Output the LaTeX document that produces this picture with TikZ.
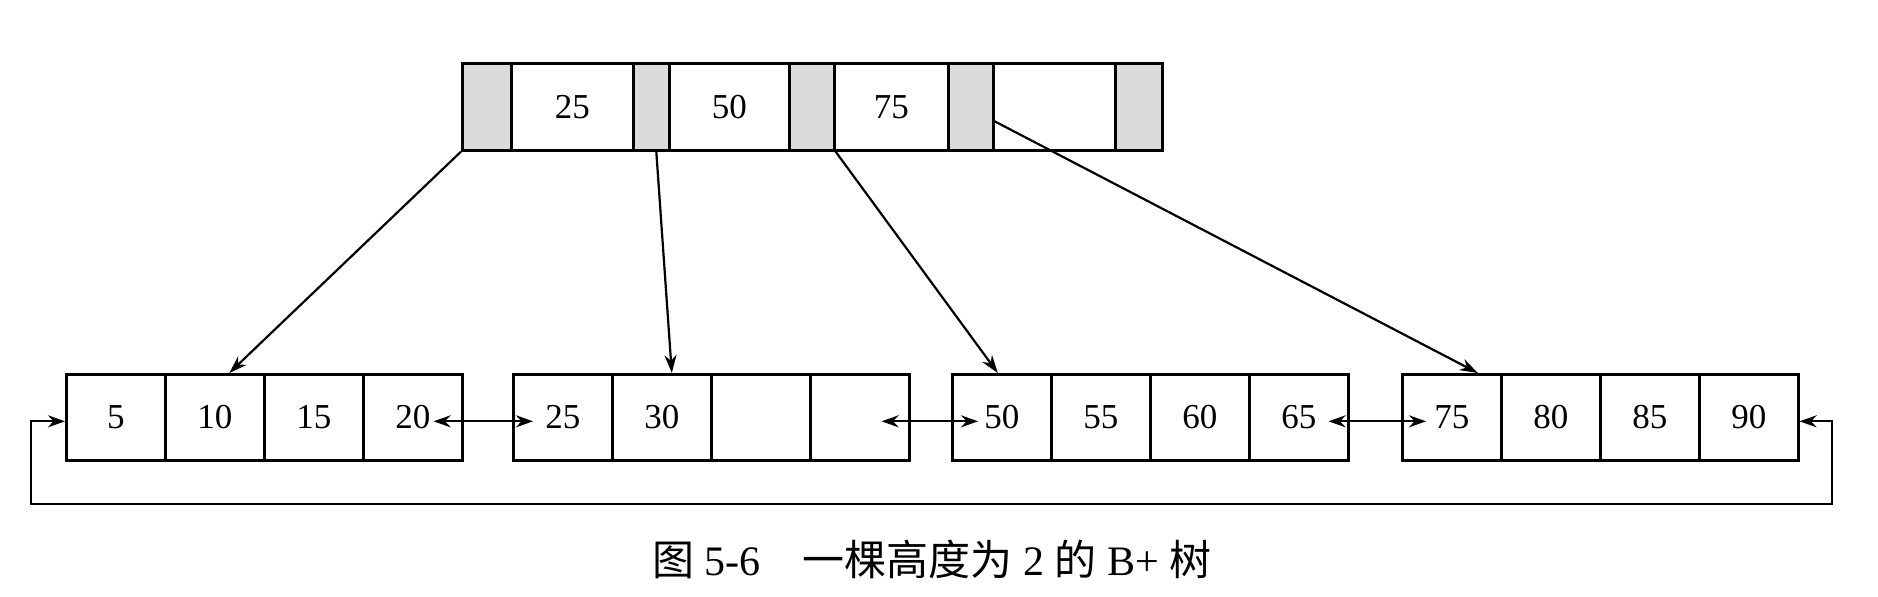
\documentclass[tikz,border=0pt]{standalone}
\usepackage{fontspec}
\setmainfont{Liberation Serif}
\newfontfamily\cjk{Noto Sans CJK SC}
\usetikzlibrary{arrows.meta}
\tikzset{
  topcell/.style={draw, line width=1.3pt, minimum height=43.5pt, inner sep=0pt, anchor=north west,
    font=\fontsize{17.5}{17.5}\selectfont},
  ptrcell/.style={topcell, fill=gray!28},
  leafcell/.style={draw, line width=1.3pt, minimum height=43pt, minimum width=49.5pt, inner sep=0pt,
    anchor=north west, font=\fontsize{17.5}{17.5}\selectfont},
  conn/.style={line width=1.1pt, -{Stealth[length=9pt,width=6pt]}},
  dconn/.style={line width=1.1pt, {Stealth[length=8.5pt,width=6pt]}-{Stealth[length=8.5pt,width=6pt]}},
}
\begin{document}
\begin{tikzpicture}[x=0.5pt,y=-0.5pt]
\useasboundingbox (0,0) rectangle (1878,596);
% root node
\node[ptrcell, minimum width=24.5pt] (p1) at (461,62) {};
\node[topcell, minimum width=61pt]   (k1) at (510,62) {25};
\node[ptrcell, minimum width=18pt]   (p2) at (632,62) {};
\node[topcell, minimum width=60pt]   (k2) at (668,62) {50};
\node[ptrcell, minimum width=22.5pt] (p3) at (788,62) {};
\node[topcell, minimum width=57pt]   (k3) at (833,62) {75};
\node[ptrcell, minimum width=22.5pt] (p4) at (947,62) {};
\node[topcell, minimum width=61pt]   (k4) at (992,62) {};
\node[ptrcell, minimum width=23.5pt] (p5) at (1114,62) {};
% leaves
\node[leafcell] (a1) at (65,373) {5};
\node[leafcell] (a2) at (164,373) {10};
\node[leafcell] (a3) at (263,373) {15};
\node[leafcell] (a4) at (362,373) {20};
\node[leafcell] (b1) at (512,373) {25};
\node[leafcell] (b2) at (611,373) {30};
\node[leafcell] (b3) at (710,373) {};
\node[leafcell] (b4) at (809,373) {};
\node[leafcell] (c1) at (951,373) {50};
\node[leafcell] (c2) at (1050,373) {55};
\node[leafcell] (c3) at (1149,373) {60};
\node[leafcell] (c4) at (1248,373) {65};
\node[leafcell] (d1) at (1401,373) {75};
\node[leafcell] (d2) at (1500,373) {80};
\node[leafcell] (d3) at (1599,373) {85};
\node[leafcell] (d4) at (1698,373) {90};
% pointers from root
\draw[conn] (p1.south west) -- ([xshift=7.25pt]a2.north);
\draw[conn] ([xshift=2.5pt]p2.south) -- ([xshift=5pt]b2.north);
\draw[conn] (p3.south east) -- ([xshift=-2pt]c1.north);
\draw[conn] ([yshift=-7.25pt]p4.east) -- ([xshift=13pt]d1.north);
% sibling links
\draw[dconn] ([xshift=-15pt,yshift=-2pt]a4.east) -- ([xshift=10.5pt,yshift=-2pt]b1.west);
\draw[dconn] ([xshift=-14.5pt,yshift=-2pt]b4.east) -- ([xshift=13.5pt,yshift=-2pt]c1.west);
\draw[dconn] ([xshift=-10.5pt,yshift=-2pt]c4.east) -- ([xshift=12.5pt,yshift=-2pt]d1.west);
% wrap-around link
\coordinate (lr) at (1832,504);
\coordinate (ll) at (31,504);
\draw[dconn] ([yshift=-2pt]d4.east) -| (lr) -- (ll) |- ([yshift=-2pt]a1.west);
% caption
\node[font=\fontsize{21}{21}\selectfont] (cap) at (932,559)
  {{\cjk 图} 5-6\quad{\cjk 一棵高度为} 2 {\cjk 的} B+ {\cjk 树}};
\end{tikzpicture}
\end{document}
